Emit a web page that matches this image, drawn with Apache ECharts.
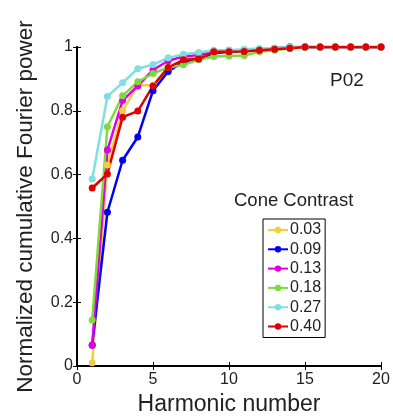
<!DOCTYPE html>
<html>
<head>
<meta charset="utf-8">
<script src="https://cdn.jsdelivr.net/npm/echarts@6/dist/echarts.min.js"></script>
<style>html,body{margin:0;padding:0;background:#fff}#c{width:393px;height:416px}</style>
</head>
<body>
<div id="c"></div>
<script>
var harmonics = [1,2,3,4,5,6,7,8,9,10,11,12,13,14,15,16,17,18,19,20];
var seriesNames = ['0.03','0.09','0.13','0.18','0.27','0.40'];
var seriesColors = ['#F2CF3A','#0000F5','#E000E0','#7ED93A','#7EE0E0','#E00000'];
var c003 = [0.01,0.63,0.80,0.88,0.88,0.93,0.96,0.97,0.98,0.985,0.99,0.99,0.995,1,1,1,1,1,1,1];
var c009 = [0.065,0.482,0.645,0.718,0.863,0.923,0.954,0.962,0.98,0.985,0.99,0.99,0.995,1,1,1,1,1,1,1];
var c013 = [0.066,0.677,0.832,0.878,0.928,0.957,0.97,0.975,0.985,0.99,0.99,0.99,0.995,1,1,1,1,1,1,1];
var c018 = [0.144,0.75,0.847,0.891,0.917,0.936,0.944,0.96,0.97,0.972,0.973,0.985,0.99,0.995,1,1,1,1,1,1];
var c027 = [0.586,0.845,0.888,0.932,0.945,0.966,0.977,0.983,0.99,0.99,0.993,0.995,0.997,1,1,1,1,1,1,1];
var c040 = [0.558,0.602,0.78,0.799,0.878,0.936,0.96,0.962,0.985,0.985,0.986,0.99,0.993,0.996,1,1,1,1,1,1];
var allValues = [c003,c009,c013,c018,c027,c040];
var xTicks = [0,5,10,15,20];
var yTicks = [0,0.2,0.4,0.6,0.8,1];

var FONT = 'Liberation Sans';
var chart = echarts.init(document.getElementById('c'));
var series = allValues.map(function(vals, i){
  return {
    name: seriesNames[i], type: 'line',
    data: harmonics.map(function(h, j){ return [h, vals[j]]; }),
    symbol: 'circle', symbolSize: 7, showSymbol: true,
    lineStyle: {width: 2.5, color: seriesColors[i]},
    itemStyle: {color: seriesColors[i]},
    animation: false
  };
});
var axisLine = {show: true, lineStyle: {color: '#000', width: 2}};
chart.setOption({
  backgroundColor: '#fff',
  animation: false,
  grid: {left: 77, right: 12, top: 47, bottom: 50, containLabel: false, outerBoundsMode: 'none'},
  title: [
    {text: 'P02', left: 325, top: 66, textStyle: {fontFamily: FONT, fontSize: 19, fontWeight: 'normal', color: '#222'}},
    {text: 'Cone Contrast', left: 229, top: 186, textStyle: {fontFamily: FONT, fontSize: 18.5, fontWeight: 'normal', color: '#222'}}
  ],
  legend: {
    orient: 'vertical', left: 263, top: 219,
    data: seriesNames,
    itemWidth: 20, itemHeight: 8, itemGap: 3.3,
    padding: [3, 4, 3, 4],
    borderColor: '#000', borderWidth: 1,
    textStyle: {fontFamily: FONT, fontSize: 16, color: '#222', padding: [0,0,0,-3], lineHeight: 16}
  },
  xAxis: [
    {type: 'value', min: 0, max: 20, interval: 5, position: 'bottom',
     name: 'Harmonic number', nameLocation: 'middle', nameGap: 25,
     nameTextStyle: {fontFamily: FONT, fontSize: 23, color: '#222'},
     axisLine: axisLine, axisTick: {inside: true, length: 4, lineStyle: {color: '#000'}},
     axisLabel: {fontFamily: FONT, fontSize: 16, color: '#222', margin: 6},
     splitLine: {show: false}},
    {type: 'value', min: 0, max: 20, interval: 5, position: 'top',
     axisLine: axisLine, axisTick: {inside: true, length: 4, lineStyle: {color: '#000'}},
     axisLabel: {show: false}, splitLine: {show: false}}
  ],
  yAxis: [
    {type: 'value', min: 0, max: 1, interval: 0.2, position: 'left',
     name: 'Normalized cumulative Fourier power', nameLocation: 'middle', nameGap: 40,
     nameTextStyle: {fontFamily: FONT, fontSize: 22.5, color: '#222'},
     axisLine: axisLine, axisTick: {inside: true, length: 4, lineStyle: {color: '#000'}},
     axisLabel: {fontFamily: FONT, fontSize: 16, color: '#222', margin: 4},
     splitLine: {show: false}},
    {type: 'value', min: 0, max: 1, interval: 0.2, position: 'right',
     axisLine: axisLine, axisTick: {inside: true, length: 4, lineStyle: {color: '#000'}},
     axisLabel: {show: false}, splitLine: {show: false}}
  ],
  series: series
});
</script>
</body>
</html>
